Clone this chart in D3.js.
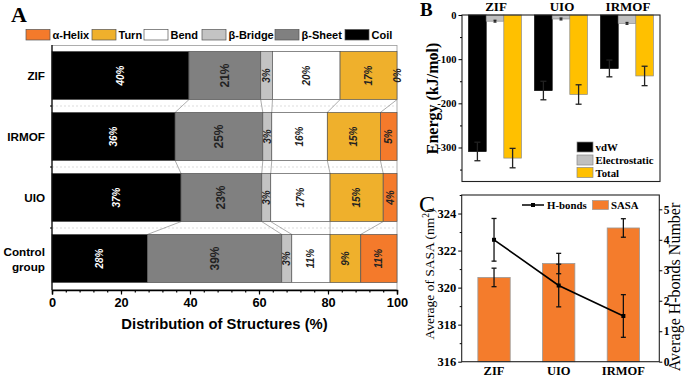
<!DOCTYPE html>
<html>
<head>
<meta charset="utf-8">
<script src="https://cdn.jsdelivr.net/npm/d3@7"></script>
<style>
  body { margin: 0; background: #fff; }
  svg { display: block; }
</style>
</head>
<body>
<div id="chart"></div>
<script>
// ---- panel A data (percent of residues) ----
const samplesA = ["ZIF", "IRMOF", "UIO", "Control group"];
const structures = ["Coil", "β-Sheet", "β-Bridge", "Bend", "Turn", "α-Helix"];
const legendOrder = ["α-Helix", "Turn", "Bend", "β-Bridge", "β-Sheet", "Coil"];
const coil = [39.7, 35.7, 37.4, 27.7];
const sheet = [20.8, 25.4, 23.4, 38.9];
const bridge = [3.4, 2.6, 2.6, 2.9];
const bend = [19.6, 16.1, 17.2, 11.1];
const turn = [16.5, 15.4, 15.4, 8.9];
const helix = [0, 4.8, 4.0, 10.5];
const xTicksA = [0, 20, 40, 60, 80, 100];

// ---- panel B data (kJ/mol) ----
const groupsB = ["ZIF", "UIO", "IRMOF"];
const energyTerms = ["vdW", "Electrostatic", "Total"];
const vdw = [-309, -171, -121];
const vdwErr = [21, 21, 19];
const elec = [-14, -9, -19];
const elecErr = [2, 2, 2];
const total = [-324, -180, -138];
const totalErr = [22, 22, 22];
const yTicksB = [0, -100, -200, -300];

// ---- panel C data ----
const groupsC = ["ZIF", "UIO", "IRMOF"];
const sasa = [320.55, 321.3, 323.22];
const sasaErr = [0.5, 0.55, 0.5];
const hbonds = [4.0, 2.5, 1.5];
const hbondsErr = [0.7, 0.7, 0.7];
const yTicksSasa = [316, 318, 320, 322, 324];
const yTicksH = [0, 1, 2, 3, 4, 5];

const sans = "'Liberation Sans', Arial, sans-serif";
const serif = "'Liberation Serif', 'Times New Roman', serif";

const svg = d3.select("#chart").append("svg")
    .attr("width", 685)
    .attr("height", 377);

drawPanelA();
drawPanelB();
drawPanelC();

function drawPanelA() {
    const colors = {
        "Coil": "#000000",
        "β-Sheet": "#808080",
        "β-Bridge": "#c3c3c3",
        "Bend": "#ffffff",
        "Turn": "#efb02c",
        "α-Helix": "#f47a2b"
    };
    const series = {
        "Coil": coil, "β-Sheet": sheet, "β-Bridge": bridge,
        "Bend": bend, "Turn": turn, "α-Helix": helix
    };
    const rows = samplesA.map((s, i) => {
        let r = { sample: s };
        structures.forEach(k => r[k] = series[k][i]);
        return r;
    });
    const stacked = d3.stack().keys(structures)(rows);

    const x = d3.scaleLinear().domain([0, 100]).range([52, 397]);
    const y = d3.scaleBand().domain(samplesA).range([45, 289])
        .paddingInner(0.21).paddingOuter(0.105);

    const g = svg.append("g");

    g.append("text")
        .attr("x", 11).attr("y", 22)
        .attr("font-family", serif).attr("font-weight", "bold")
        .attr("font-size", "22px")
        .text("A");

    // legend
    const legX = [26, 92, 144, 202, 275, 345];
    legendOrder.forEach((k, i) => {
        g.append("rect")
            .attr("x", legX[i]).attr("y", 29.5)
            .attr("width", 24).attr("height", 10.5)
            .attr("fill", colors[k]).attr("stroke", "#555").attr("stroke-width", 0.7);
        g.append("text")
            .attr("x", legX[i] + 26.5).attr("y", 38.8)
            .attr("font-family", sans).attr("font-weight", "bold")
            .attr("font-size", "11px")
            .text(k);
    });

    // plot frame
    g.append("rect")
        .attr("x", 52).attr("y", 45.5)
        .attr("width", 345).attr("height", 244)
        .attr("fill", "none").attr("stroke", "#9a9a9a").attr("stroke-width", 0.8);

    // dotted separators between bars
    samplesA.slice(1).forEach(s => {
        const yy = y(s) - y.step() * y.paddingInner() / 2;
        g.append("line")
            .attr("x1", 52).attr("x2", 397)
            .attr("y1", yy).attr("y2", yy)
            .attr("stroke", "#cfcfcf").attr("stroke-width", 0.7)
            .attr("stroke-dasharray", "2,2");
    });

    // connectors between segment boundaries
    for (let i = 0; i < samplesA.length - 1; i++) {
        stacked.forEach(layer => {
            if (layer.key === "α-Helix") return;
            g.append("line")
                .attr("x1", x(layer[i][1]))
                .attr("y1", y(samplesA[i]) + y.bandwidth())
                .attr("x2", x(layer[i + 1][1]))
                .attr("y2", y(samplesA[i + 1]))
                .attr("stroke", "#8a8a8a").attr("stroke-width", 0.7);
        });
    }

    // bars
    stacked.forEach(layer => {
        g.selectAll(null)
            .data(layer)
            .join("rect")
            .attr("x", d => x(d[0]))
            .attr("y", d => y(d.data.sample))
            .attr("width", d => x(d[1]) - x(d[0]))
            .attr("height", y.bandwidth())
            .attr("fill", colors[layer.key])
            .attr("stroke", "#555").attr("stroke-width", 0.7);
    });

    // value labels
    stacked.forEach(layer => {
        layer.forEach(d => {
            const cx = (x(d[0]) + x(d[1])) / 2;
            const cy = y(d.data.sample) + y.bandwidth() / 2;
            const isSheet = layer.key === "β-Sheet";
            g.append("text")
                .attr("transform", `translate(${cx + (isSheet ? 4 : 3.5)},${cy}) rotate(-90)`)
                .attr("text-anchor", "middle")
                .attr("font-family", sans).attr("font-weight", "bold")
                .attr("font-style", isSheet ? "normal" : "italic")
                .attr("font-size", isSheet ? "12px" : "10px")
                .attr("fill", layer.key === "Coil" ? "#fff" : "#222")
                .text(Math.round(d.data[layer.key]) + "%");
        });
    });

    // category labels
    samplesA.forEach(s => {
        const cy = y(s) + y.bandwidth() / 2;
        const t = g.append("text")
            .attr("text-anchor", "end")
            .attr("font-family", sans).attr("font-weight", "bold")
            .attr("font-size", "11.7px");
        if (s === "Control group") {
            t.append("tspan").attr("x", 45).attr("y", cy - 3).text("Control");
            t.append("tspan").attr("x", 45).attr("y", cy + 12).text("group");
        } else {
            t.attr("x", 45).attr("y", cy + 4.5).text(s);
        }
    });

    // left axis line with ticks at band boundaries
    g.append("line")
        .attr("x1", 52).attr("x2", 52).attr("y1", 45).attr("y2", 290)
        .attr("stroke", "#000").attr("stroke-width", 1.2);
    samplesA.slice(1).forEach(s => {
        const yy = y(s) - y.step() * y.paddingInner() / 2;
        g.append("line")
            .attr("x1", 50).attr("x2", 52).attr("y1", yy).attr("y2", yy)
            .attr("stroke", "#000").attr("stroke-width", 1.2);
    });

    // bottom axis
    const axB = g.append("g")
        .attr("transform", "translate(0,290)")
        .call(d3.axisBottom(x).tickValues(d3.range(0, 101, 4)).tickSize(2.5).tickFormat(""));
    axB.selectAll("line").attr("stroke-width", 1.2);
    const axMaj = g.append("g")
        .attr("transform", "translate(0,290)")
        .call(d3.axisBottom(x).tickValues(xTicksA).tickSize(4.5).tickPadding(3));
    axMaj.selectAll("line").attr("stroke-width", 1.2);
    axMaj.select(".domain").attr("stroke-width", 1.4);
    axB.select(".domain").remove();
    axMaj.selectAll("text")
        .attr("font-family", sans).attr("font-weight", "bold")
        .attr("font-size", "12.8px").attr("fill", "#000");

    g.append("text")
        .attr("x", 224.5).attr("y", 329)
        .attr("text-anchor", "middle")
        .attr("font-family", sans).attr("font-weight", "bold")
        .attr("font-size", "14.8px")
        .text("Distribution of Structures (%)");
}

function drawPanelB() {
    const colors = { "vdW": "#000000", "Electrostatic": "#c0c0c0", "Total": "#ffc000" };
    const vals = { "vdW": vdw, "Electrostatic": elec, "Total": total };
    const errs = { "vdW": vdwErr, "Electrostatic": elecErr, "Total": totalErr };

    const x0 = d3.scaleBand().domain(groupsB).range([462, 660]).paddingInner(0.2).paddingOuter(0.1);
    const x1 = d3.scaleBand().domain(energyTerms).range([0, x0.bandwidth()]);
    const y = d3.scaleLinear().domain([-377, 0]).range([181.5, 15]);

    const g = svg.append("g");

    g.append("text")
        .attr("x", 420).attr("y", 16)
        .attr("font-family", serif).attr("font-weight", "bold")
        .attr("font-size", "19px")
        .text("B");

    // bars
    energyTerms.forEach(k => {
        g.selectAll(null)
            .data(groupsB)
            .join("rect")
            .attr("x", (d) => x0(d) + x1(k))
            .attr("y", y(0))
            .attr("width", x1.bandwidth())
            .attr("height", (d, i) => y(vals[k][i]) - y(0))
            .attr("fill", colors[k])
            .attr("stroke", k === "vdW" ? "#000" : "#8a8a8a")
            .attr("stroke-width", 0.7);
    });

    // error bars
    energyTerms.forEach(k => {
        groupsB.forEach((grp, i) => {
            const cx = x0(grp) + x1(k) + x1.bandwidth() / 2;
            const v = vals[k][i], e = errs[k][i];
            const yTop = y(Math.min(0, v + e)), yBot = y(v - e);
            const cw = k === "Electrostatic" ? 1.5 : 3;
            g.append("line")
                .attr("x1", cx).attr("x2", cx).attr("y1", yTop).attr("y2", yBot)
                .attr("stroke", "#222").attr("stroke-width", 1.3);
            [yTop, yBot].forEach(yy => {
                g.append("line")
                    .attr("x1", cx - cw).attr("x2", cx + cw).attr("y1", yy).attr("y2", yy)
                    .attr("stroke", "#222").attr("stroke-width", 1.3);
            });
        });
    });

    // frame
    g.append("rect")
        .attr("x", 462).attr("y", 15)
        .attr("width", 198).attr("height", 166.5)
        .attr("fill", "none").attr("stroke", "#222").attr("stroke-width", 1.1);

    // y axis
    const minor = g.append("g").attr("transform", "translate(462,0)")
        .call(d3.axisLeft(y).tickValues([-50, -150, -250, -350]).tickSize(2).tickFormat(""));
    minor.select(".domain").remove();
    const ay = g.append("g").attr("transform", "translate(462,0)")
        .call(d3.axisLeft(y).tickValues(yTicksB).tickSize(3.5).tickPadding(2)
            .tickFormat(d => d < 0 ? "-" + Math.abs(d) : d));
    ay.select(".domain").remove();
    ay.selectAll("text")
        .attr("font-family", serif).attr("font-weight", "bold")
        .attr("font-size", "10.5px").attr("fill", "#000");

    // group labels on top
    groupsB.forEach(grp => {
        g.append("text")
            .attr("x", x0(grp) + x0.bandwidth() / 2 + 1).attr("y", 10.5)
            .attr("text-anchor", "middle")
            .attr("font-family", serif).attr("font-weight", "bold")
            .attr("font-size", "13px")
            .text(grp);
    });

    g.append("text")
        .attr("transform", "translate(437.5,98.5) rotate(-90)")
        .attr("text-anchor", "middle")
        .attr("font-family", serif).attr("font-weight", "bold")
        .attr("font-size", "16px")
        .text("Energy (kJ/mol)");

    // legend
    const legY = [147, 160, 172.5];
    energyTerms.forEach((k, i) => {
        g.append("rect")
            .attr("x", 577).attr("y", legY[i] - 5)
            .attr("width", 16).attr("height", 10)
            .attr("fill", colors[k]).attr("stroke", "#888").attr("stroke-width", 0.7);
        g.append("text")
            .attr("x", 595.5).attr("y", legY[i] + 4)
            .attr("font-family", serif).attr("font-weight", "bold")
            .attr("font-size", "10.8px")
            .text(k);
    });
}

function drawPanelC() {
    const x = d3.scaleBand().domain(groupsC).range([461.7, 655.7]).paddingInner(0.5).paddingOuter(0.25);
    const yS = d3.scaleLinear().domain([316, 325]).range([361.7, 195]);
    const yH = d3.scaleLinear().domain([0, 5.47]).range([361.7, 195]);

    const g = svg.append("g");

    g.append("text")
        .attr("x", 419).attr("y", 212)
        .attr("font-family", serif)
        .attr("font-size", "24px")
        .text("C");

    // SASA bars
    g.selectAll(null)
        .data(groupsC)
        .join("rect")
        .attr("x", d => x(d))
        .attr("y", (d, i) => yS(sasa[i]))
        .attr("width", x.bandwidth())
        .attr("height", (d, i) => yS(316) - yS(sasa[i]))
        .attr("fill", "#f47c2c")
        .attr("stroke", "#999").attr("stroke-width", 0.8);

    function errBar(cx, y1, y2) {
        g.append("line")
            .attr("x1", cx).attr("x2", cx).attr("y1", y1).attr("y2", y2)
            .attr("stroke", "#111").attr("stroke-width", 1.3);
        [y1, y2].forEach(yy => {
            g.append("line")
                .attr("x1", cx - 2.5).attr("x2", cx + 2.5).attr("y1", yy).attr("y2", yy)
                .attr("stroke", "#111").attr("stroke-width", 1.3);
        });
    }

    groupsC.forEach((grp, i) => {
        const cx = x(grp) + x.bandwidth() / 2;
        errBar(cx, yS(sasa[i] + sasaErr[i]), yS(sasa[i] - sasaErr[i]));
    });

    // H-bonds line
    const line = d3.line()
        .x((d, i) => x(groupsC[i]) + x.bandwidth() / 2)
        .y(d => yH(d));
    g.append("path")
        .datum(hbonds)
        .attr("d", line)
        .attr("fill", "none").attr("stroke", "#000").attr("stroke-width", 1.6);
    groupsC.forEach((grp, i) => {
        const cx = x(grp) + x.bandwidth() / 2;
        errBar(cx, yH(hbonds[i] + hbondsErr[i]), yH(hbonds[i] - hbondsErr[i]));
        g.append("rect")
            .attr("x", cx - 2).attr("y", yH(hbonds[i]) - 2)
            .attr("width", 4).attr("height", 4).attr("fill", "#000");
    });

    // frame
    g.append("rect")
        .attr("x", 461.7).attr("y", 195)
        .attr("width", 197.6).attr("height", 166.7)
        .attr("fill", "none").attr("stroke", "#222").attr("stroke-width", 1.1);

    // left axis
    const minL = g.append("g").attr("transform", "translate(461.7,0)")
        .call(d3.axisLeft(yS).tickValues([317, 319, 321, 323, 325]).tickSize(2).tickFormat(""));
    minL.select(".domain").remove();
    const aL = g.append("g").attr("transform", "translate(461.7,0)")
        .call(d3.axisLeft(yS).tickValues(yTicksSasa).tickSize(3.5).tickPadding(2));
    aL.select(".domain").remove();
    aL.selectAll("text")
        .attr("font-family", serif).attr("font-weight", "bold")
        .attr("font-size", "12.5px").attr("fill", "#000");

    // right axis
    const aR = g.append("g").attr("transform", "translate(659.3,0)")
        .call(d3.axisRight(yH).tickValues(yTicksH).tickSize(3).tickPadding(1.5)
            .tickFormat(d3.format("d")));
    aR.select(".domain").remove();
    aR.selectAll("text")
        .attr("font-family", serif).attr("font-weight", "bold")
        .attr("font-size", "11.5px").attr("fill", "#000");

    // bottom axis labels
    const aX = g.append("g").attr("transform", "translate(0,361.7)")
        .call(d3.axisBottom(x).tickSize(0).tickPadding(4));
    aX.select(".domain").remove();
    aX.selectAll("text")
        .attr("font-family", serif).attr("font-weight", "bold")
        .attr("font-size", "12.5px").attr("fill", "#000");

    // axis titles
    const tl = g.append("text")
        .attr("transform", "translate(433.5,274) rotate(-90)")
        .attr("text-anchor", "middle")
        .attr("font-family", serif)
        .attr("font-size", "13.5px");
    tl.append("tspan").text("Average of SASA (nm");
    tl.append("tspan").attr("dy", -5).attr("font-size", "9.5px").text("2");
    tl.append("tspan").attr("dy", 5).text(")");

    g.append("text")
        .attr("transform", "translate(680,287) rotate(-90)")
        .attr("text-anchor", "middle")
        .attr("font-family", serif)
        .attr("font-size", "16px")
        .text("Average H-bonds Number");

    // legend
    g.append("line")
        .attr("x1", 522).attr("x2", 544).attr("y1", 205).attr("y2", 205)
        .attr("stroke", "#000").attr("stroke-width", 1.5);
    g.append("rect")
        .attr("x", 531).attr("y", 203).attr("width", 4).attr("height", 4).attr("fill", "#000");
    g.append("text")
        .attr("x", 547).attr("y", 208.5)
        .attr("font-family", serif).attr("font-weight", "bold")
        .attr("font-size", "10.8px")
        .text("H-bonds");
    g.append("rect")
        .attr("x", 592.5).attr("y", 200.5).attr("width", 16).attr("height", 9)
        .attr("fill", "#f47c2c").attr("stroke", "#999").attr("stroke-width", 0.7);
    g.append("text")
        .attr("x", 611).attr("y", 208.5)
        .attr("font-family", serif).attr("font-weight", "bold")
        .attr("font-size", "10.8px")
        .text("SASA");
}
</script>
</body>
</html>
